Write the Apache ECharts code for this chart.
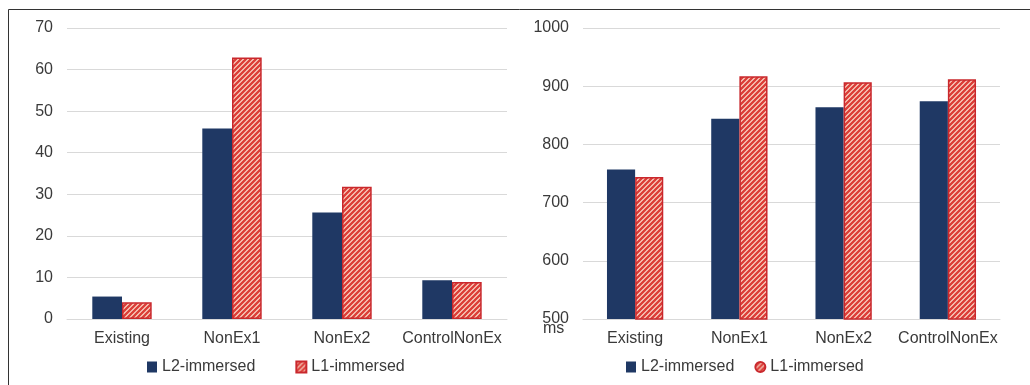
<!DOCTYPE html>
<html>
<head>
<meta charset="utf-8">
<style>
  html, body { margin: 0; padding: 0; background: #ffffff; }
  #chart { width: 1030px; height: 385px; }
</style>
<script src="https://cdn.jsdelivr.net/npm/echarts@6/dist/echarts.min.js"></script>
</head>
<body>
<div id="chart"></div>
<script>
// Conditions shown on both panels
const categories = ['Existing', 'NonEx1', 'NonEx2', 'ControlNonEx'];
const seriesNames = ['L2-immersed', 'L1-immersed'];

// Left panel: error values
const leftL2 = [5.4, 45.8, 25.6, 9.3];
const leftL1 = [4.0, 62.9, 31.8, 8.9];

// Right panel: response times (ms)
const rightL2 = [757, 844, 864, 874];
const rightL1 = [744, 917, 907, 912];

const navy = '#1F3864';
const red = '#C9282D';
const textColor = '#3A3A3A';
const gridColor = '#D9D9D9';
const fontFamily = '"Liberation Sans", Arial, sans-serif';

// Diagonal hatch fill for the L1 bars
function hatchPattern() {
  const s = 5;
  const c = document.createElement('canvas');
  c.width = s; c.height = s;
  const g = c.getContext('2d');
  g.fillStyle = '#FBE2D2';
  g.fillRect(0, 0, s, s);
  g.strokeStyle = '#DC3E38';
  g.lineWidth = 2.4;
  g.beginPath();
  g.moveTo(-1, s + 1); g.lineTo(s + 1, -1);
  g.moveTo(-1, 1); g.lineTo(1, -1);
  g.moveTo(s - 1, s + 1); g.lineTo(s + 1, s - 1);
  g.stroke();
  return { image: c, repeat: 'repeat' };
}
const hatch = hatchPattern();

const chart = echarts.init(document.getElementById('chart'), null, { renderer: 'canvas' });

function xAxis(gridIndex) {
  return {
    type: 'category',
    gridIndex: gridIndex,
    data: categories,
    axisLine: { show: true, lineStyle: { color: gridColor, width: 1 } },
    axisTick: { show: false },
    axisLabel: { color: textColor, fontSize: 16, fontFamily: fontFamily, margin: 12, interval: 0 }
  };
}

function yAxis(gridIndex, min, max, interval) {
  return {
    type: 'value',
    gridIndex: gridIndex,
    min: min, max: max, interval: interval,
    axisLine: { show: false },
    axisTick: { show: false },
    splitLine: { lineStyle: { color: gridColor, width: 1 } },
    axisLabel: {
      color: textColor, fontSize: 16, fontFamily: fontFamily, margin: 14,
      formatter: (v) => String(v)
    }
  };
}

function l2Series(idx, data) {
  return {
    name: seriesNames[0], type: 'bar', xAxisIndex: idx, yAxisIndex: idx,
    data: data, barGap: '0%', barCategoryGap: '46%',
    itemStyle: { color: navy },
    emphasis: { disabled: true }
  };
}

function l1Series(idx, data) {
  return {
    name: seriesNames[1], type: 'bar', xAxisIndex: idx, yAxisIndex: idx,
    data: data, barGap: '0%', barCategoryGap: '46%',
    itemStyle: { color: hatch, borderColor: red, borderWidth: 1.5 },
    emphasis: { disabled: true }
  };
}

const legendText = { color: textColor, fontSize: 16, fontFamily: fontFamily };

chart.setOption({
  animation: false,
  backgroundColor: '#ffffff',
  grid: [
    { left: 67, right: 523, top: 28, bottom: 66 },
    { left: 583, right: 30, top: 28, bottom: 66 }
  ],
  xAxis: [xAxis(0), xAxis(1)],
  yAxis: [yAxis(0, 0, 70, 10), yAxis(1, 500, 1000, 100)],
  legend: [
    {
      left: 147, top: 359, padding: 0, itemWidth: 10, itemHeight: 11, itemGap: 40,
      textStyle: legendText, selectedMode: false,
      data: [{ name: seriesNames[0], icon: 'rect' }, { name: seriesNames[1], icon: 'rect' }]
    },
    {
      left: 626, top: 359, padding: 0, itemWidth: 10, itemHeight: 11, itemGap: 20,
      textStyle: legendText, selectedMode: false,
      data: [{ name: seriesNames[0], icon: 'rect' }, { name: seriesNames[1], icon: 'circle' }]
    }
  ],
  series: [
    l2Series(0, leftL2), l1Series(0, leftL1),
    l2Series(1, rightL2), l1Series(1, rightL1)
  ],
  graphic: [
    // outer frame along the top and left edges
    {
      type: 'polyline', silent: true,
      shape: { points: [[8.5, 385], [8.5, 9.5], [1030, 9.5]] },
      style: { stroke: '#333333', lineWidth: 1, fill: null }
    },
    // unit label under the right value axis
    {
      type: 'text', left: 543, top: 321, silent: true,
      style: { text: 'ms', fill: textColor, fontSize: 16, fontFamily: fontFamily }
    }
  ]
});
</script>
</body>
</html>
